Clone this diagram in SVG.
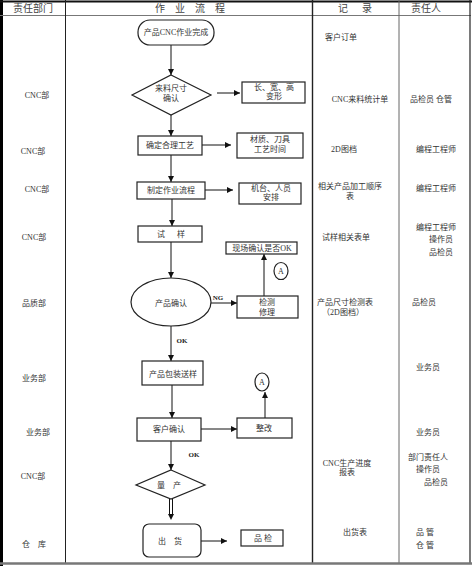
<svg xmlns="http://www.w3.org/2000/svg" width="474" height="566" viewBox="0 0 474 566">
<style>
text{font-family:"Liberation Serif","Noto Sans CJK SC",serif;font-size:8px;fill:#333;text-anchor:middle}
.h{font-size:10px;fill:#444}
.s{font-size:7px;fill:#222;font-weight:bold}
.n{fill:#fff;stroke:#222;stroke-width:1.2}
.c line{stroke:#111;stroke-width:1;fill:none}
.head{fill:#111;stroke:none}
</style>
<defs>
<marker id="ar" viewBox="0 0 6 6" refX="6" refY="3" markerWidth="6" markerHeight="6" markerUnits="userSpaceOnUse" orient="auto">
<path d="M0,0L6,3L0,6z" fill="#111"/>
</marker>
</defs>
<rect width="474" height="566" fill="#fff"/>
<g id="table">
<line x1="1.5" y1="0" x2="1.5" y2="566" stroke="#000" stroke-width="3"/>
<line x1="0" y1="1.5" x2="472" y2="1.5" stroke="#111" stroke-width="2"/>
<line x1="0" y1="15.5" x2="471" y2="15.5" stroke="#777" stroke-width="1.2"/>
<line x1="65.5" y1="0" x2="65.5" y2="564" stroke="#222" stroke-width="1"/>
<line x1="312.5" y1="0" x2="312.5" y2="564" stroke="#222" stroke-width="1.4"/>
<line x1="399" y1="0" x2="399" y2="564" stroke="#666" stroke-width="1"/>
<line x1="470" y1="0" x2="470" y2="564" stroke="#222" stroke-width="1.2"/>
<line x1="0" y1="563.5" x2="472" y2="563.5" stroke="#777" stroke-width="2.5"/>
<text class="h" x="33" y="12">责任部门</text>
<text class="h" x="190" y="12">作　业　流　程</text>
<text class="h" x="356" y="12" letter-spacing="2">记　录</text>
<text class="h" x="426" y="12">责任人</text>
</g>
<g id="dept">
<text x="37" y="98">CNC部</text>
<text x="33" y="154">CNC部</text>
<text x="37" y="192">CNC部</text>
<text x="34" y="240">CNC部</text>
<text x="34" y="306">品质部</text>
<text x="34" y="381">业务部</text>
<text x="38" y="435">业务部</text>
<text x="33" y="479">CNC部</text>
<text x="34" y="547">仓　库</text>
</g>
<g id="records">
<text x="341" y="40">客户订单</text>
<text x="360" y="102">CNC来料统计单</text>
<text x="344" y="152">2D图档</text>
<text x="350" y="189">相关产品加工顺序</text>
<text x="350" y="199">表</text>
<text x="346" y="240">试样相关表单</text>
<text x="345" y="305">产品尺寸检测表</text>
<text x="343" y="315">（2D图档）</text>
<text x="347" y="466">CNC生产进度</text>
<text x="347" y="475">报表</text>
<text x="355" y="535">出货表</text>
</g>
<g id="persons">
<text x="431" y="102">品检员 仓管</text>
<text x="436" y="152">编程工程师</text>
<text x="436" y="191">编程工程师</text>
<text x="436" y="230">编程工程师</text>
<text x="441" y="242">操作员</text>
<text x="441" y="255">品检员</text>
<text x="424" y="305">品检员</text>
<text x="428" y="370">业务员</text>
<text x="428" y="435">业务员</text>
<text x="428" y="460">部门责任人</text>
<text x="428" y="472">操作员</text>
<text x="436" y="485">品检员</text>
<text x="425" y="535">品 管</text>
<text x="425" y="548">仓 管</text>
</g>
<g id="connectors" class="c">
<line x1="171" y1="45" x2="171" y2="75" marker-end="url(#ar)"/>
<line x1="217" y1="93" x2="240" y2="93" marker-end="url(#ar)"/>
<line x1="171" y1="115" x2="171" y2="136" marker-end="url(#ar)"/>
<line x1="202" y1="145" x2="231" y2="145" marker-end="url(#ar)"/>
<line x1="171" y1="155" x2="171" y2="182" marker-end="url(#ar)"/>
<line x1="205" y1="190" x2="233" y2="190" marker-end="url(#ar)"/>
<line x1="172" y1="199" x2="172" y2="226" marker-end="url(#ar)"/>
<line x1="171" y1="242" x2="171" y2="278" marker-end="url(#ar)"/>
<line x1="211" y1="303" x2="237" y2="303" marker-end="url(#ar)"/>
<line x1="264" y1="296" x2="264" y2="254" marker-end="url(#ar)"/>
<line x1="171" y1="326" x2="171" y2="361" marker-end="url(#ar)"/>
<line x1="172" y1="385" x2="172" y2="418" marker-end="url(#ar)"/>
<line x1="201" y1="429" x2="237" y2="429" marker-end="url(#ar)"/>
<line x1="265" y1="418" x2="265" y2="392" marker-end="url(#ar)"/>
<line x1="171" y1="441" x2="171" y2="470" marker-end="url(#ar)"/>
<line x1="169.5" y1="499" x2="169.5" y2="515"/>
<line x1="172.5" y1="499" x2="172.5" y2="515"/>
<path class="head" d="M168,514L174,514L171,520z"/>
<line x1="201" y1="541" x2="227" y2="541" marker-end="url(#ar)"/>
<text class="s" x="218" y="300">NG</text>
<text class="s" x="182" y="343">OK</text>
<text class="s" x="194" y="457">OK</text>
</g>
<g id="n1"><rect class="n" x="138" y="20" width="76" height="25" rx="12"/><text x="176" y="35">产品CNC作业完成</text></g>
<g id="n2"><path class="n" d="M171,75L211,95L171,115L132,95z"/><text x="171" y="91">来料尺寸</text><text x="171" y="101">确认</text></g>
<g id="n3"><rect class="n" x="242" y="82" width="63" height="21"/><text x="274" y="90">长、宽、高</text><text x="274" y="99">变形</text></g>
<g id="n4"><rect class="n" x="138" y="136" width="64" height="19"/><text x="170" y="148">确定合理工艺</text></g>
<g id="n5"><rect class="n" x="237" y="133" width="66" height="25"/><text x="270" y="142">材质、刀具</text><text x="270" y="152">工艺时间</text></g>
<g id="n6"><rect class="n" x="137" y="182" width="68" height="17"/><text x="171" y="193">制定作业流程</text></g>
<g id="n7"><rect class="n" x="239" y="183" width="62" height="21"/><text x="271" y="191">机台、人员</text><text x="271" y="200">安排</text></g>
<g id="n8"><rect class="n" x="138" y="226" width="64" height="16"/><text x="172" y="237" letter-spacing="2">试　样</text></g>
<g id="n9"><ellipse class="n" cx="171" cy="302" rx="40" ry="24"/><text x="171" y="306">产品确认</text></g>
<g id="n10"><rect class="n" x="226" y="242" width="71" height="12"/><text x="262" y="251">现场确认是否OK</text></g>
<g id="n11"><rect class="n" x="237" y="296" width="61" height="22"/><text x="267" y="305">检测</text><text x="267" y="315">修理</text></g>
<g id="n12"><ellipse class="n" cx="281" cy="271" rx="7" ry="8.5"/><text x="281" y="274">A</text></g>
<g id="n13"><rect class="n" x="142" y="361" width="61" height="24"/><text x="173" y="377">产品包装送样</text></g>
<g id="n14"><rect class="n" x="137" y="418" width="64" height="23"/><text x="169" y="432">客户确认</text></g>
<g id="n15"><rect class="n" x="237" y="418" width="55" height="20"/><text x="264" y="431">整改</text></g>
<g id="n16"><ellipse class="n" cx="262" cy="382" rx="7" ry="9"/><text x="262" y="385">A</text></g>
<g id="n17"><path class="n" d="M171,470L205,485L171,499L136,485z"/><text x="169" y="488">量　产</text></g>
<g id="n18"><rect class="n" x="143" y="524" width="58" height="33" rx="6"/><text x="170" y="544">出　货</text></g>
<g id="n19"><rect class="n" x="241" y="530" width="42" height="16"/><text x="263" y="541">品 检</text></g>
</svg>
